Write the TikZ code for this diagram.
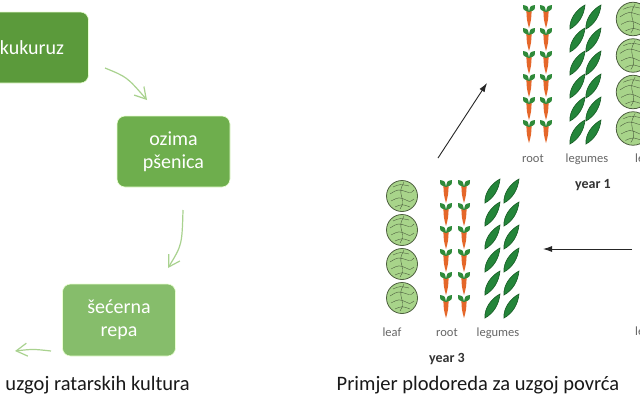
\documentclass[tikz,border=0pt]{standalone}
\usepackage{fontspec}
\setmainfont{Carlito}
\usetikzlibrary{arrows.meta}

\definecolor{cornfill}{HTML}{5B9A3B}
\definecolor{wheatfill}{HTML}{6EAE4D}
\definecolor{beetfill}{HTML}{86BD6B}
\definecolor{flowgreen}{HTML}{A9D28F}
\definecolor{carrotfill}{HTML}{E5672A}
\definecolor{carrottop}{HTML}{2F8A3A}
\definecolor{podfill}{HTML}{24853A}
\definecolor{podline}{HTML}{155A22}
\definecolor{cabbagefill}{HTML}{A8D48A}
\definecolor{cabbageline}{HTML}{4D5E3F}

\tikzset{
  crop/.style={rounded corners=8pt, draw=white!35!green!40!lime!20!white, line width=0.6pt,
    text=white, minimum width=113pt, minimum height=71pt, align=center,
    font=\fontsize{20}{23}\selectfont},
  flow/.style={draw=flowgreen, line width=1.2pt, -{Straight Barb[length=11pt,width=13pt]}},
  turn/.style={draw=black!85, line width=0.9pt, -{Latex[length=9pt,width=6pt]}},
  vegname/.style={anchor=base, inner sep=0pt, text=black!60, font=\fontsize{12.5}{14}\selectfont},
  yearname/.style={anchor=base, inner sep=0pt, text=black!80, font=\bfseries\fontsize{14}{16}\selectfont},
  captext/.style={anchor=base, inner sep=0pt, text=black!90, font=\fontsize{20.5}{24}\selectfont},
  carrot/.pic={
    \fill[carrotfill] (-2.6,6) .. controls (-2.2,15) .. (0,23) .. controls (2.2,15) .. (2.6,6) -- cycle;
    \fill[carrottop] (0,7) .. controls (-1,1) .. (-6,0) .. controls (-6,5) .. (0,7) -- cycle;
    \fill[carrottop] (0,7) .. controls (1,1) .. (6,0) .. controls (6,5) .. (0,7) -- cycle;
  },
  pod/.pic={
    \filldraw[fill=podfill, draw=podline, line width=0.6pt] (-7,12) .. controls (-8,2) and (0,-8) .. (8,-12)
      .. controls (7,-2) and (2,7) .. (-7,12) -- cycle;
  },
  cabbage/.pic={
    \filldraw[fill=cabbagefill, draw=cabbageline, line width=0.8pt] (0,0) circle[radius=15.5];
    \draw[cabbageline, line width=0.4pt] (-9,-9) .. controls (-2,-12) .. (7,-10)
      (-12,-2) .. controls (-4,-7) .. (5,-4) .. controls (9,-3) .. (12,-6)
      (-11,5) .. controls (-3,1) .. (4,4) .. controls (8,6) .. (12,3)
      (-7,11) .. controls (0,8) .. (8,11)
      (2,-14) .. controls (-2,-6) .. (0,2) .. controls (1,8) .. (-2,13);
  }
}

\begin{document}
\begin{tikzpicture}[x=1pt, y=-1pt]
\useasboundingbox (0,0) rectangle (640,400);
\fill[white] (0,0) rectangle (640,400);
\clip (0,0) rectangle (640,400);

% field crops
\node[crop, fill=cornfill] (kukuruz) at (32,47.5) {kukuruz};
\node[crop, fill=wheatfill] (psenica) at (173.5,151.5) {ozima\\pšenica};
\node[crop, fill=beetfill, minimum height=72pt] (repa) at (119,320) {šećerna\\repa};
\coordinate (kp1) at (105,68);
\coordinate (kp2) at (147,100);
\coordinate (pr1) at (183,210);
\coordinate (pr2) at (168,268);
\coordinate (rk1) at (51,351);
\coordinate (rk2) at (15,351);
\draw[flow] (kp1) .. controls (127,77) .. (kp2);
\draw[flow] (pr1) .. controls (182,245) .. (pr2);
\draw[flow] (rk1) .. controls (33,349) .. (rk2);
\node[captext, anchor=base east] (fieldcap) at (190,390) {uzgoj ratarskih kultura};

% year 3
\foreach \i in {0,...,3} \pic at (402,{196+34*\i}) {cabbage};
\foreach \x in {446,464} \foreach \i in {0,...,5} \pic at (\x,{180+23*\i}) {carrot};
\foreach \x in {492,511} \foreach \i in {0,...,5} \pic at (\x,{191+23*\i}) {pod};
\node[vegname] (leaf3) at (392,336) {leaf};
\node[vegname] (root3) at (447,336) {root};
\node[vegname] (legumes3) at (498,336) {legumes};
\node[yearname] (year3) at (447,362) {year 3};

% year 1
\foreach \x in {529,546} \foreach \i in {0,...,5} \pic at (\x,{5+23*\i}) {carrot};
\foreach \x in {577,593} \foreach \i in {0,...,5} \pic at (\x,{17+23*\i}) {pod};
\foreach \i in {0,...,3} \pic[scale=1.08] at (633,{19+36.5*\i}) {cabbage};
\node[vegname] (root1) at (533,162) {root};
\node[vegname] (legumes1) at (587,162) {legumes};
\node[vegname, anchor=base west] (leaf1) at (635,162) {leaf};
\node[yearname] (year1) at (593,188) {year 1};

% year 2
\node[vegname, anchor=base west] (leaf2) at (635,335) {leaf};

\coordinate (y3out) at (438,158);
\coordinate (y1in) at (487,83);
\coordinate (y2out) at (632,249);
\coordinate (y3in) at (543,249);
\draw[turn] (y3out) -- (y1in);
\draw[turn] (y2out) -- (y3in);
\node[captext] (vegcap) at (478,390) {Primjer plodoreda za uzgoj povrća};
\end{tikzpicture}
\end{document}
